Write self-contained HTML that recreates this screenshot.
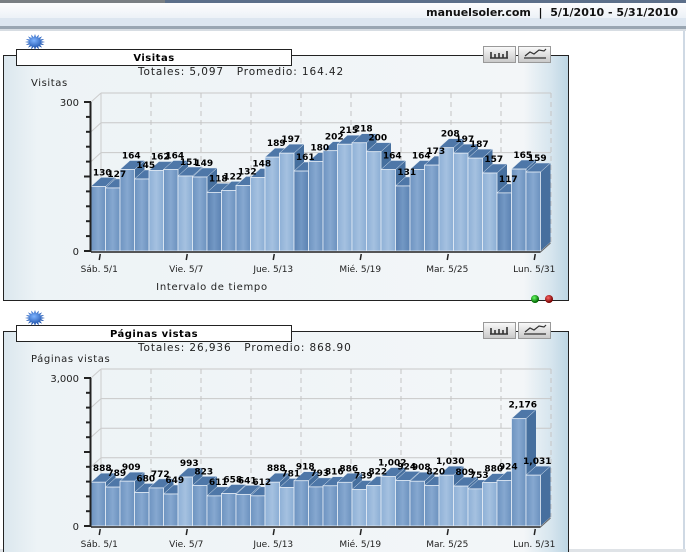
<!DOCTYPE html>
<html><head><meta charset="utf-8"><style>
html,body{margin:0;padding:0;width:686px;height:552px;overflow:hidden;background:#fff}
svg{display:block}
text{font-family:"DejaVu Sans","Liberation Sans",sans-serif;white-space:pre}
</style></head><body>
<svg id="s" width="686" height="552" xmlns="http://www.w3.org/2000/svg">
<defs>
<linearGradient id="hdr" x1="0" y1="0" x2="0" y2="1"><stop offset="0" stop-color="#fdfdfe"/><stop offset="1" stop-color="#e4ebf3"/></linearGradient>
<linearGradient id="pan" x1="0" y1="0" x2="1" y2="0"><stop offset="0" stop-color="#dbe7ee"/><stop offset="0.06" stop-color="#edf3f6"/><stop offset="0.92" stop-color="#f3f6f8"/><stop offset="0.97" stop-color="#d6e5ee"/><stop offset="1" stop-color="#bcd5e3"/></linearGradient>
<linearGradient id="bf" x1="0" y1="0" x2="1" y2="0"><stop offset="0" stop-color="#6d93c0"/><stop offset="0.5" stop-color="#86a8d0"/><stop offset="1" stop-color="#6b91be"/></linearGradient>
<linearGradient id="bl" x1="0" y1="0" x2="1" y2="0"><stop offset="0" stop-color="#8eb0d6"/><stop offset="0.5" stop-color="#a5c1e0"/><stop offset="1" stop-color="#8aadd4"/></linearGradient>
<linearGradient id="bd" x1="0" y1="0" x2="1" y2="0"><stop offset="0" stop-color="#5a80b0"/><stop offset="0.5" stop-color="#7398c4"/><stop offset="1" stop-color="#5b82b2"/></linearGradient>
<radialGradient id="star" cx="0.45" cy="0.4" r="0.6"><stop offset="0" stop-color="#7fb4ff"/><stop offset="1" stop-color="#0a3f9c"/></radialGradient>
<radialGradient id="gd" cx="0.4" cy="0.35" r="0.6"><stop offset="0" stop-color="#6f6"/><stop offset="1" stop-color="#060"/></radialGradient>
<radialGradient id="rd" cx="0.4" cy="0.35" r="0.6"><stop offset="0" stop-color="#f66"/><stop offset="1" stop-color="#700"/></radialGradient>
<linearGradient id="btn" x1="0" y1="0" x2="0" y2="1"><stop offset="0" stop-color="#fafafa"/><stop offset="1" stop-color="#c8c8c8"/></linearGradient>
</defs>
<rect x="0" y="0" width="686" height="3" fill="#7a7f83"/>
<rect x="165" y="0" width="521" height="3" fill="#5c6f8a"/>
<rect x="0" y="3" width="686" height="23" fill="url(#hdr)"/>
<rect x="0" y="18" width="686" height="8" fill="#dde6f0"/>
<rect x="0" y="26" width="686" height="3" fill="#9aa6b2"/>
<rect x="0" y="29" width="686" height="2" fill="#d7dde3"/>
<text x="678" y="16" text-anchor="end" font-size="11" font-weight="bold" fill="#111">manuelsoler.com  |  5/1/2010 - 5/31/2010</text>
<rect x="683" y="31" width="2" height="521" fill="#cfd9e4"/>
<rect x="0" y="549" width="686" height="3" fill="#dfe3e7"/>
<g id="g"></g>
</svg>
<script>
var g=document.getElementById('g'),NS='http://www.w3.org/2000/svg';
function el(t,a,txt){var e=document.createElementNS(NS,t);for(var k in a)e.setAttribute(k,a[k]);if(txt!==undefined)e.textContent=txt;g.appendChild(e);return e;}
function fmt(v){return v>=1000?Math.floor(v/1000)+','+('00'+(v%1000)).slice(-3):''+v;}
function star(cx,cy){var p='';for(var i=0;i<32;i++){var a=Math.PI*i/16,r=i%2?6:10;p+=(cx+r*Math.cos(a))+','+(cy+r*Math.sin(a)*0.8)+' ';}el('polygon',{points:p,fill:'url(#star)'});}
function panel(o){
 var T=o.top,B=o.bottom;
 el('rect',{x:3.5,y:T+0.5,width:565,height:B-T,fill:'url(#pan)',stroke:'#222','stroke-width':1});
 el('rect',{x:16.5,y:T-5.5,width:275,height:16,fill:'#fff',stroke:'#222'});
 star(35,T-13);
 el('text',{x:154,y:T+6,'text-anchor':'middle','font-size':10,'font-weight':'bold',fill:'#000','letter-spacing':0.5},o.title);
 el('rect',{x:483.5,y:T-8.5,width:32,height:16,fill:'url(#btn)',stroke:'#999'});
 el('rect',{x:518.5,y:T-8.5,width:32,height:16,fill:'url(#btn)',stroke:'#999'});
 el('path',{d:'M490 '+(T+3)+'h18 M491 '+(T+3)+'v-6 M495 '+(T+3)+'v-4 M499 '+(T+3)+'v-5 M503 '+(T+3)+'v-4 M507 '+(T+3)+'v-7',stroke:'#333','stroke-width':1.6,fill:'none'});
 el('path',{d:'M524 '+(T+3)+'h22 M525 '+(T+1)+'l5 -4 4 2 5 -4 5 1 2 -2',stroke:'#333','stroke-width':1.2,fill:'none'});
 el('text',{x:138,y:T+20,'font-size':10.5,fill:'#222','letter-spacing':0.9},o.tot);
 el('text',{x:31,y:T+31,'font-size':10,fill:'#222','letter-spacing':0.6},o.ylab);
 var y0=o.y0,yt=o.yt,X0=91,bw=14.5,dx=10,dy=9,max=o.max,sc=(y0-yt)/max,XE=X0+31*bw;
 for(var i=0;i<=5;i++){var yy=y0-dy-(y0-yt)*i/5;el('line',{x1:X0+dx,y1:yy,x2:551,y2:yy,stroke:'#c8c8c8'});el('line',{x1:X0,y1:yy+dy,x2:X0+dx,y2:yy,stroke:'#ccc'});}
 for(var x=151;x<=551;x+=50)el('line',{x1:x,y1:yt-dy,x2:x,y2:y0-dy,stroke:'#c4c4c4','stroke-dasharray':'5,4'});
 el('line',{x1:X0+dx,y1:yt-dy,x2:X0+dx,y2:y0-dy,stroke:'#ccc'});
 var shade=o.shade;
 o.v.forEach(function(v,i){var x=X0+i*bw,h=v*sc,ty=y0-h,f=['url(#bf)','url(#bl)','url(#bd)'][shade[i]];
  el('polygon',{points:(x+bw)+','+ty+' '+(x+bw+dx)+','+(ty-dy)+' '+(x+bw+dx)+','+(y0-dy)+' '+(x+bw)+','+y0,fill:'#466f9e'});
  el('polygon',{points:x+','+ty+' '+(x+dx)+','+(ty-dy)+' '+(x+bw+dx)+','+(ty-dy)+' '+(x+bw)+','+ty,fill:'#4e77a8',stroke:'#dbe6f2','stroke-width':0.5});
  el('rect',{x:x,y:ty,width:bw,height:h,fill:f,stroke:'#e6eef7','stroke-width':0.8});
 });
 o.v.forEach(function(v,i){var x=X0+i*bw,ty=y0-v*sc;
  el('text',{x:x+bw/2+4,y:ty-dy-2,'text-anchor':'middle','font-size':9,'font-weight':'bold',fill:'#000'},fmt(v));});
 el('line',{x1:X0-0.5,y1:yt,x2:X0-0.5,y2:y0+1,stroke:'#222','stroke-width':2});
 el('line',{x1:X0,y1:y0+1,x2:XE,y2:y0+1,stroke:'#222','stroke-width':1.5});
 el('line',{x1:XE,y1:y0+1,x2:XE+dx,y2:y0+1-dy,stroke:'#666','stroke-width':1});
 for(var k=0;k<=10;k++){var yy=y0-(y0-yt)*k/10;el('line',{x1:X0-(k%5?5:7),y1:yy,x2:X0,y2:yy,stroke:'#222','stroke-width':2});}
 el('text',{x:X0-12,y:yt+4,'text-anchor':'end','font-size':10,fill:'#222'},o.ymaxl);
 el('text',{x:X0-12,y:y0+4,'text-anchor':'end','font-size':10,fill:'#222'},'0');
 var labs=['Sáb. 5/1','Vie. 5/7','Jue. 5/13','Mié. 5/19','Mar. 5/25','Lun. 5/31'];
 labs.forEach(function(l,j){var cx=X0+(j*6+0.5)*bw+1;el('line',{x1:cx+1,y1:y0+3,x2:cx,y2:y0+9,stroke:'#222','stroke-width':1.5});
  el('text',{x:cx,y:y0+21,'text-anchor':'middle','font-size':9,fill:'#222'},l);});
 if(o.xl)el('text',{x:212,y:y0+39,'text-anchor':'middle','font-size':10,fill:'#222','letter-spacing':0.7},'Intervalo de tiempo');
}
panel({top:55,bottom:300,title:'Visitas',tot:'Totales: 5,097   Promedio: 164.42',ylab:'Visitas',y0:251,yt:102,max:300,ymaxl:'300',xl:1,
 v:[130,127,164,145,162,164,151,149,118,122,132,148,189,197,161,180,202,215,218,200,164,131,164,173,208,197,187,157,117,165,159],
 shade:[0,0,0,0,1,0,1,0,2,0,0,1,1,1,2,0,0,1,1,1,1,2,0,0,1,1,1,1,2,0,0]});
el('circle',{cx:535,cy:299,r:4,fill:'url(#gd)'});el('circle',{cx:549,cy:299,r:4,fill:'url(#rd)'});
panel({top:331,bottom:560,title:'Páginas vistas',tot:'Totales: 26,936   Promedio: 868.90',ylab:'Páginas vistas',y0:526,yt:378,max:3000,ymaxl:'3,000',xl:0,
 v:[888,789,909,680,772,649,993,823,611,658,641,612,888,781,918,793,816,886,739,822,1002,924,908,820,1030,809,753,880,924,2176,1031],
 shade:[0,0,0,0,0,0,1,0,0,0,0,0,1,1,0,0,0,0,1,1,1,0,0,0,1,1,1,1,0,0,0]});
</script>
</body></html>
